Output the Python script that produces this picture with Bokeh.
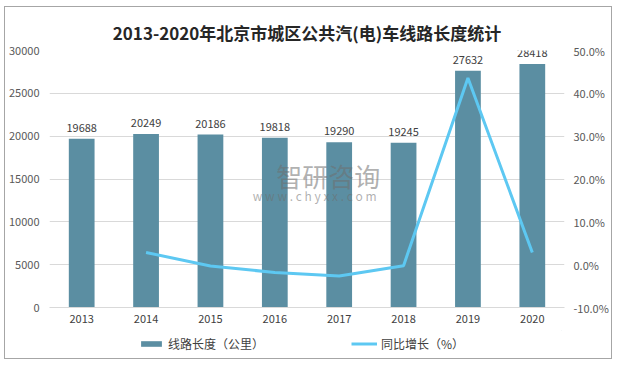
from bokeh.plotting import figure
from bokeh.layouts import column
from bokeh.models import (Range1d, LinearAxis, FixedTicker, PrintfTickFormatter,
                          BasicTickFormatter, Legend, LegendItem, Title, ColumnDataSource, Label)
from bokeh.core.properties import value
from bokeh.embed import file_html
from bokeh.resources import INLINE

years = ["2013", "2014", "2015", "2016", "2017", "2018", "2019", "2020"]
length_km = [19688, 20249, 20186, 19818, 19290, 19245, 27632, 28418]
growth_years = ["2014", "2015", "2016", "2017", "2018", "2019", "2020"]
growth_pct = [2.85, -0.31, -1.82, -2.66, -0.23, 43.58, 2.84]
left_ticks = [0, 5000, 10000, 15000, 20000, 25000, 30000]
right_ticks = [-10, 0, 10, 20, 30, 40, 50]
series_names = ["线路长度（公里）", "同比增长（%）"]

FONT = "Noto Sans CJK SC"
BAR = "#5B8EA2"
LINE = "#5DC8F2"
LABEL = "#595959"

p = figure(x_range=years, y_range=Range1d(0, 30000),
           frame_width=515, frame_height=257,
           output_backend="svg", toolbar_location=None,
           min_border_left=43, min_border_right=45, min_border_top=43, min_border_bottom=23)
p.extra_y_ranges = {"pct": Range1d(-10, 50)}

p.title = Title(text="2013-2020年北京市城区公共汽(电)车线路长度统计", align="center",
                text_font=FONT, text_font_size="17px", text_font_style="bold",
                text_color="#262626", standoff=11)

bsrc = ColumnDataSource(dict(x=years, y=length_km, t=[str(v) for v in length_km]))
p.vbar(x="x", top="y", width=0.4, source=bsrc, fill_color=BAR, line_color=None)
p.text(x="x", y="y", text="t", source=bsrc, text_align="center", text_baseline="bottom",
       y_offset=-7, text_font=value(FONT), text_font_size="11px", text_color="#404040")

wm1 = Label(x=4.33, y=15400, text="智研咨询", text_font=FONT, text_font_size="26px",
            text_color="#6e6e6e", text_alpha=0.55, text_align="center", text_baseline="middle")
wm2 = Label(x=4.12, y=13070, text="w w w . c h y x x . c o m", text_font=FONT, text_font_size="12px",
            text_color="#6e6e6e", text_alpha=0.55, text_align="center", text_baseline="middle")
p.add_layout(wm1)
p.add_layout(wm2)

p.line(x=growth_years, y=growth_pct, y_range_name="pct", line_color=LINE, line_width=3)

ya = p.yaxis[0]
ya.ticker = FixedTicker(ticks=left_ticks)
ya.formatter = BasicTickFormatter(use_scientific=False)
ra = LinearAxis(y_range_name="pct", ticker=FixedTicker(ticks=right_ticks),
                formatter=PrintfTickFormatter(format="%.1f%%"))
p.add_layout(ra, "right")

for ax in [ya, ra]:
    ax.axis_line_color = None
    ax.major_tick_line_color = None
    ax.minor_tick_line_color = None
    ax.major_tick_out = 0
    ax.minor_tick_out = 0
    ax.major_label_text_font = FONT
    ax.major_label_text_font_size = "11px"
    ax.major_label_text_color = LABEL
ya.major_label_standoff = 10
ra.major_label_standoff = 9

xa = p.xaxis[0]
xa.axis_line_color = "#d9d9d9"
xa.major_tick_line_color = None
xa.minor_tick_line_color = None
xa.major_tick_out = 0
xa.major_label_text_font = FONT
xa.major_label_text_font_size = "11px"
xa.major_label_text_color = "#404040"
xa.major_label_standoff = 7

p.xgrid.grid_line_color = None
p.ygrid.grid_line_color = "#d9d9d9"
p.ygrid.ticker = FixedTicker(ticks=left_ticks)
p.outline_line_color = None

# legend strip (its proxy glyphs sit outside the strip's visible range)
lg = figure(width=603, height=28, x_range=Range1d(0, 1), y_range=Range1d(0, 1),
            x_axis_type=None, y_axis_type=None, output_backend="svg", toolbar_location=None,
            min_border=0)
lg.grid.grid_line_color = None
lg.outline_line_color = None
r_bar = lg.vbar(x=[10], top=[10], bottom=[9], width=0.1, fill_color=BAR, line_color=None)
r_line = lg.line(x=[10, 11], y=[10, 10], line_color=LINE, line_width=3)
legend = Legend(items=[LegendItem(label=series_names[0], renderers=[r_bar]),
                       LegendItem(label=series_names[1], renderers=[r_line])],
                orientation="horizontal", location=(89, 6),
                label_text_font=FONT, label_text_font_size="12px", label_text_color="#404040",
                glyph_width=26, glyph_height=7, spacing=87, padding=0, margin=0,
                border_line_color=None, background_fill_alpha=0, label_standoff=4)
lg.add_layout(legend, "center")

layout = column(p, lg, spacing=0)
layout.styles = {"border": "1px solid #a6a6a6", "margin": "6px 0 0 4px"}

open("out.html", "w").write(file_html(layout, INLINE))
